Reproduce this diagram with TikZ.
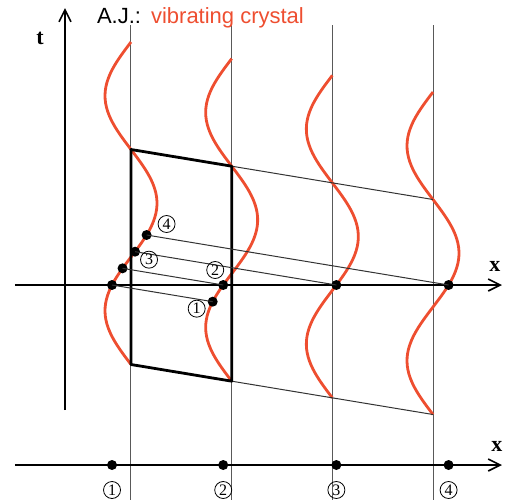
\documentclass[tikz,border=0pt]{standalone}
\usepackage{fontspec}
\setmainfont{Liberation Serif}
\newfontfamily\headfont{Liberation Sans}
\usetikzlibrary{arrows.meta,positioning}
\definecolor{crystal}{RGB}{238,78,48}

\begin{document}
\begin{tikzpicture}[x=0.5pt,y=-0.5pt,
 declare function={wx(\n,\s)=131+100.67*\n-26*sin(1.67442*\s);wy(\n,\s)=42+16.67*\n+\s;},
 axis/.style={line width=0.8pt,-{Straight Barb[length=6pt,width=6pt]}},
 grid/.style={black!65,line width=0.5pt},
 wave/.style={crystal,line width=1.4pt},
 ray/.style={black!80,line width=0.5pt},
 cell/.style={line width=1.4pt,line join=round},
 dot/.style={circle,fill,inner sep=0pt,minimum size=5pt},
 num/.style={circle,draw,inner sep=0pt,minimum size=8.5pt,line width=0.4pt,font=\fontsize{8}{8}\selectfont},
 lab/.style={font=\fontsize{11}{11}\selectfont\bfseries}]
\useasboundingbox (0,0) rectangle (516,500);
% lattice sites and axes
\foreach \n in {0,...,3} \draw[grid] ({131+100.67*\n},25) -- ({131+100.67*\n},500);
\draw[axis] (65,410) -- (65,8); \draw[axis] (15,285) -- (502,285); \draw[axis] (15,465) -- (502,465);
\node[lab] (tlab) at (40,38) {t}; \node[lab] (xlab) at (495,266) {x}; \node[lab] (xbot) at (497,446) {x};
\node[anchor=west,font=\headfont\fontsize{11}{13}\selectfont] (title) at (90,18) {A.J.:\hspace{5pt}\textcolor{crystal}{vibrating crystal}};
% oscillating atoms
\foreach \n in {0,...,3} \draw[wave] plot[domain=0:322.5,samples=80,smooth] ({wx(\n,\x)},{wy(\n,\x)});
% unit cell
\coordinate (tl) at ({wx(0,107.5)},{wy(0,107.5)}); \coordinate (tr) at ({wx(1,107.5)},{wy(1,107.5)});
\coordinate (bl) at ({wx(0,322.5)},{wy(0,322.5)}); \coordinate (br) at ({wx(1,322.5)},{wy(1,322.5)});
\coordinate (tr4) at ({wx(3,107.5)},{wy(3,107.5)}); \coordinate (br4) at ({wx(3,322.5)},{wy(3,322.5)});
\draw[ray] (tr)--(tr4); \draw[ray] (br)--(br4);
\draw[cell] (tl)--(tr)--(br)--(bl)--cycle;
% equal phase points
\node[dot] (a1) at ({wx(0,243)},{wy(0,243)}) {}; \node[dot] (a2) at ({wx(0,226.33)},{wy(0,226.33)}) {};
\node[dot] (a3) at ({wx(0,209.67)},{wy(0,209.67)}) {}; \node[dot] (a4) at ({wx(0,193)},{wy(0,193)}) {};
\node[dot] (b1) at ({wx(1,243)},{wy(1,243)}) {}; \node[dot] (b2) at ({wx(1,226.33)},285) {};
\node[dot] (b3) at ({wx(2,209.67)},285) {}; \node[dot] (b4) at ({wx(3,193)},285) {};
\draw[ray](a1.center)--(b1.center);\draw[ray](a2.center)--(b2.center);
\draw[ray](a3.center)--(b3.center);\draw[ray](a4.center)--(b4.center);
\node[num] (l1) at ([shift={(-16,7)}]b1) {1}; \node[num] (l2) at ([shift={(-8,-15)}]b2) {2};
\node[num] (l3) at ([shift={(14,8)}]a3) {3}; \node[num] (l4) at ([shift={(20,-11)}]a4) {4};
% positions at t=0
\foreach \n/\s in {0/243,1/226.33,2/209.67,3/193} {
  \node[dot] (c\n) at ({wx(\n,\s)},465) {};
  \node[num] (m\n) at ([shift={(0,25)}]c\n) {\pgfmathparse{int(\n+1)}\pgfmathresult};
}
\end{tikzpicture}
\end{document}
